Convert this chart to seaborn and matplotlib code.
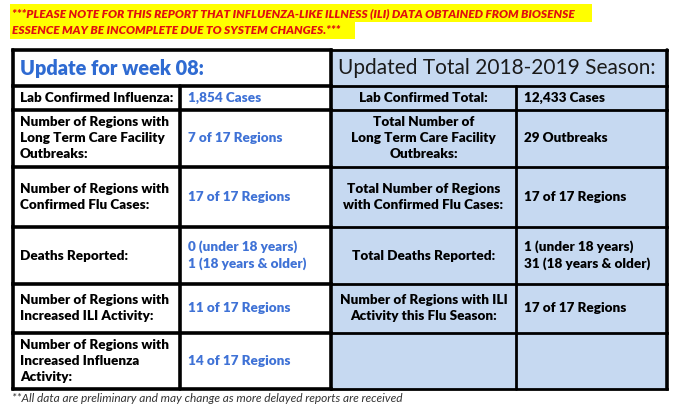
import matplotlib
matplotlib.use("Agg")
import matplotlib.pyplot as plt
import seaborn as sns
from matplotlib.patches import Rectangle

# texte du tableau
banner_lines = [
    "***PLEASE NOTE FOR THIS REPORT THAT INFLUENZA-LIKE ILLNESS (ILI) DATA OBTAINED FROM BIOSENSE",
    "ESSENCE MAY BE INCOMPLETE DUE TO SYSTEM CHANGES.***",
]
left_title = "Update for week 08:"
right_title = "Updated Total 2018-2019 Season:"

left_labels = [
    "Lab Confirmed Influenza:",
    "Number of Regions with\nLong Term Care Facility\nOutbreaks:",
    "Number of Regions with\nConfirmed Flu Cases:",
    "Deaths Reported:",
    "Number of Regions with\nIncreased ILI Activity:",
    "Number of Regions with\nIncreased Influenza\nActivity:",
]
left_values = [
    "1,854 Cases",
    "7 of 17 Regions",
    "17 of 17 Regions",
    "0 (under 18 years)\n1 (18 years & older)",
    "11 of 17 Regions",
    "14 of 17 Regions",
]
right_labels = [
    "Lab Confirmed Total:",
    "Total Number of\nLong Term Care Facility\nOutbreaks:",
    "Total Number of Regions\nwith Confirmed Flu Cases:",
    "Total Deaths Reported:",
    "Number of Regions with ILI\nActivity this Flu Season:",
    "",
]
right_values = [
    "12,433 Cases",
    "29 Outbreaks",
    "17 of 17 Regions",
    "1 (under 18 years)\n31 (18 years & older)",
    "17 of 17 Regions",
    "",
]
footnote = "**All data are preliminary and may change as more delayed reports are received"

# mise en page (pixels)
W, H = 679, 408
cols = [13, 180, 331, 516, 667]
rows = [50, 86, 110, 167, 227, 284, 333, 389]

BLUE_FILL = "#C6D9F1"
BLUE_TXT = "#3F72D6"
TITLE_BLUE = "#2F6BD2"
FS = 9.7
WEIGHT = 800

sns.set_theme(style="white")
plt.rcParams["font.family"] = ["Lato", "DejaVu Sans"]

fig = plt.figure(figsize=(W / 100, H / 100), dpi=100)
ax = fig.add_axes([0, 0, 1, 1])
ax.set_xlim(0, W)
ax.set_ylim(H, 0)
ax.axis("off")

# bandeau jaune
ax.add_patch(Rectangle((10, 4), 582, 18, color="#FFFF00", lw=0))
ax.add_patch(Rectangle((10, 22), 345, 17, color="#FFFF00", lw=0))
for i, line in enumerate(banner_lines):
    ax.text(12, 13.5 + i * 17, line, color="#E01010", fontsize=8.6,
            fontweight=WEIGHT, style="italic", va="center", ha="left")

# fond bleu de la partie droite
ax.add_patch(Rectangle((cols[2], rows[0]), cols[4] - cols[2], rows[-1] - rows[0],
                       color=BLUE_FILL, lw=0))

lw_thick = 2.6
lw_thin = 2.0
# lignes horizontales
for y in rows:
    ax.plot([cols[0], cols[2]], [y, y], color="black", lw=lw_thick, solid_capstyle="projecting")
    ax.plot([cols[2], cols[4]], [y, y], color="black", lw=lw_thin, solid_capstyle="projecting")
# lignes verticales
ax.plot([cols[0]] * 2, [rows[0], rows[-1]], color="black", lw=lw_thick)
ax.plot([cols[1]] * 2, [rows[1], rows[-1]], color="black", lw=lw_thick)
ax.plot([cols[2]] * 2, [rows[0], rows[-1]], color="black", lw=lw_thick)
ax.plot([cols[3]] * 2, [rows[1], rows[-1]], color="black", lw=lw_thin)
ax.plot([cols[4]] * 2, [rows[0], rows[-1]], color="black", lw=lw_thick)

# titres
hy = (rows[0] + rows[1]) / 2
ax.text(cols[0] + 7, hy, left_title, color=TITLE_BLUE, fontsize=14.3, fontweight=WEIGHT,
        va="center", ha="left")
ax.text(cols[2] + 7, hy, right_title, color="#1A1A1A", fontsize=15,
        va="center", ha="left")

# cellules
for i in range(len(left_labels)):
    cy = (rows[i + 1] + rows[i + 2]) / 2
    ax.text(cols[0] + 7, cy, left_labels[i], fontsize=FS, fontweight=WEIGHT, color="black",
            va="center", ha="left", linespacing=1.4)
    ax.text(cols[1] + 8, cy, left_values[i], fontsize=FS, fontweight=WEIGHT, color=BLUE_TXT,
            va="center", ha="left", linespacing=1.4)
    ax.text((cols[2] + cols[3]) / 2, cy, right_labels[i], fontsize=FS, fontweight=WEIGHT,
            color="black", va="center", ha="center", multialignment="center", linespacing=1.4)
    ax.text(cols[3] + 8, cy, right_values[i], fontsize=FS, fontweight=WEIGHT, color="black",
            va="center", ha="left", linespacing=1.4)

ax.text(12, 398, footnote, fontsize=8.6, style="italic", color="#333333", va="center", ha="left")

fig.savefig("out.png", dpi=100)
